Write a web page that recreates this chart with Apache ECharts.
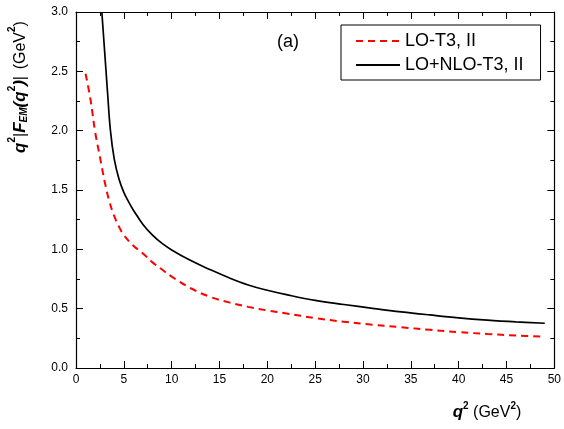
<!DOCTYPE html>
<html>
<head>
<meta charset="utf-8">
<script src="https://cdn.jsdelivr.net/npm/echarts@6/dist/echarts.min.js"></script>
<style>
html,body{margin:0;padding:0;background:#fff;}
#c{width:564px;height:429px;}
</style>
</head>
<body>
<div id="c"></div>
<script>
// ---- data ----
const loX  = [1.0, 1.5, 2.0, 2.5, 3.0, 3.5, 4.0, 4.5, 5.0, 6.0, 7.0, 8.0, 9.0, 10, 12, 14, 16, 18, 20, 22, 25, 28, 31, 34, 37, 40, 43, 46, 49];
const loY  = [2.48, 2.27, 1.99, 1.78, 1.57, 1.40, 1.28, 1.19, 1.12, 1.03, 0.965, 0.89, 0.83, 0.77, 0.672, 0.60, 0.553, 0.515, 0.485, 0.46, 0.42, 0.39, 0.365, 0.343, 0.322, 0.302, 0.287, 0.274, 0.263];
const nloX = [2.7, 3.0, 3.3, 3.6, 4.0, 4.5, 5.0, 5.5, 6.0, 7.0, 8.0, 9.0, 10, 12, 14, 16, 18, 20, 22, 25, 28, 31, 34, 37, 40, 43, 46, 49];
const nloY = [3.0, 2.66, 2.32, 2.0, 1.76, 1.59, 1.48, 1.40, 1.33, 1.21, 1.12, 1.05, 0.995, 0.905, 0.83, 0.76, 0.70, 0.655, 0.618, 0.57, 0.535, 0.503, 0.473, 0.447, 0.423, 0.404, 0.389, 0.377];
const seriesNames = ['LO-T3, II', 'LO+NLO-T3, II'];
const panelLabel = '(a)';

const zip = (xs, ys) => xs.map((x, i) => [x, ys[i]]);
const FONT = 'Liberation Sans, Arial, sans-serif';

const chart = echarts.init(document.getElementById('c'), null, {renderer: 'canvas'});

function mkAxis(extra) {
  return Object.assign({
    type: 'value',
    axisLine: {show: true, onZero: false, lineStyle: {color: '#000', width: 1.2}},
    splitLine: {show: false},
    axisTick: {show: true, inside: true, length: 7, lineStyle: {color: '#000', width: 1}},
    minorTick: {show: true, splitNumber: 2, length: 4, lineStyle: {color: '#000', width: 1}},
    minorSplitLine: {show: false}
  }, extra);
}

chart.setOption({
  animation: false,
  backgroundColor: '#fff',
  grid: {left: 76, right: 9, top: 12, bottom: 61, containLabel: false},
  xAxis: [
    mkAxis({min: 0, max: 50, interval: 5, position: 'bottom',
      axisLabel: {color: '#000', fontSize: 12, fontFamily: FONT, margin: 6}}),
    mkAxis({min: 0, max: 50, interval: 5, position: 'top', axisLabel: {show: false}})
  ],
  yAxis: [
    mkAxis({min: 0, max: 3, interval: 0.5, position: 'left',
      axisLabel: {color: '#000', fontSize: 12, fontFamily: FONT, margin: 8,
        formatter: v => v.toFixed(1)}}),
    mkAxis({min: 0, max: 3, interval: 0.5, position: 'right', axisLabel: {show: false}})
  ],
  legend: {
    show: true,
    orient: 'vertical', left: 341, top: 25,
    itemWidth: 44, itemHeight: 14, itemGap: 6,
    padding: [7, 17, 6, 14],
    borderColor: '#000', borderWidth: 1,
    backgroundColor: '#fff',
    itemStyle: {opacity: 0},
    textStyle: {color: '#000', fontSize: 18, fontFamily: FONT},
    data: seriesNames
  },
  series: [
    {
      name: seriesNames[0], type: 'line', smooth: 0.4, showSymbol: false, symbol: 'none',
      xAxisIndex: 0, yAxisIndex: 0,
      lineStyle: {color: '#ff0000', width: 2, type: [7, 5]},
      itemStyle: {color: '#ff0000'},
      data: zip(loX, loY)
    },
    {
      name: seriesNames[1], type: 'line', smooth: 0.4, showSymbol: false, symbol: 'none',
      xAxisIndex: 0, yAxisIndex: 0,
      lineStyle: {color: '#000', width: 1.7},
      itemStyle: {color: '#000'},
      data: zip(nloX, nloY)
    }
  ],
  graphic: [
    {
      type: 'text', left: 277, top: 33,
      style: {text: panelLabel, fill: '#000', font: '18px ' + FONT}
    },
    {
      type: 'text', x: 18, y: 87, rotation: Math.PI / 2,
      style: {
        text: '{b|q}{sp|2}{n||}{b|F}{sb|EM}{b|(q}{sp|2}{b|)}{n||}  {n|(GeV}{sp|2}{n|)}',
        align: 'center', verticalAlign: 'middle',
        rich: {
          b: {fontSize: 17, fontWeight: 'bold', fontStyle: 'italic', fontFamily: FONT, fill: '#000', verticalAlign: 'bottom', lineHeight: 22},
          n: {fontSize: 16, fontFamily: FONT, fill: '#000', verticalAlign: 'bottom', lineHeight: 22},
          sp: {fontSize: 10, fontWeight: 'bold', fontFamily: FONT, fill: '#000', verticalAlign: 'top', lineHeight: 22},
          sb: {fontSize: 10, fontWeight: 'bold', fontStyle: 'italic', fontFamily: FONT, fill: '#000', verticalAlign: 'bottom', lineHeight: 18}
        }
      }
    },
    {
      type: 'text', x: 487, y: 411,
      style: {
        text: '{b|q}{sp|2}{n| (GeV}{sp|2}{n|)}',
        align: 'center', verticalAlign: 'middle',
        rich: {
          b: {fontSize: 17, fontWeight: 'bold', fontStyle: 'italic', fontFamily: FONT, fill: '#000', verticalAlign: 'bottom', lineHeight: 20},
          n: {fontSize: 16, fontFamily: FONT, fill: '#000', verticalAlign: 'bottom', lineHeight: 20},
          sp: {fontSize: 10, fontWeight: 'bold', fontFamily: FONT, fill: '#000', verticalAlign: 'top', lineHeight: 20}
        }
      }
    }
  ]
});
</script>
</body>
</html>
